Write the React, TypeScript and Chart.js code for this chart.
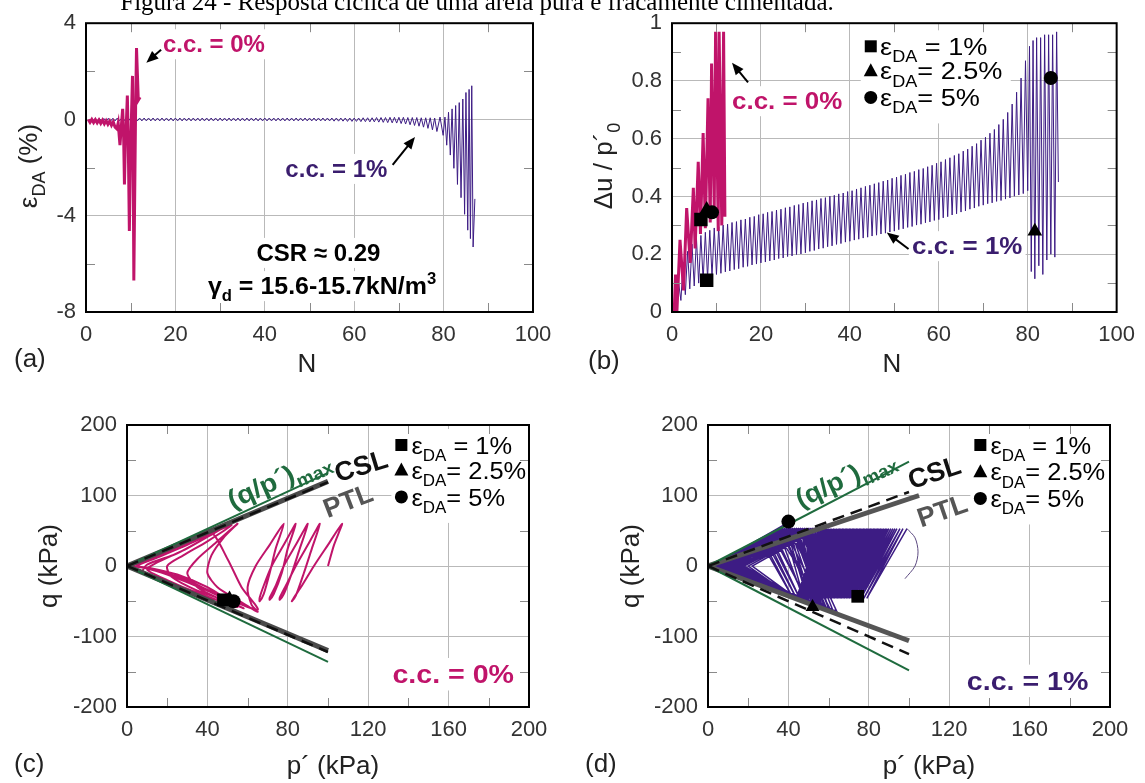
import React, { useEffect, useRef } from "react";
import { Chart, registerables } from "chart.js";

Chart.register(...registerables);

const W = 1145;
const H = 783;
const SANS = '"Liberation Sans", Arial, Helvetica, sans-serif';
const SERIF = '"Liberation Serif", "Times New Roman", Times, serif';
const MAG = "#c0146a";
const PUR = "#3d1c84";
const PUR_TXT = "#3a1d6e";
const GRN = "#1f6b3e";
const PTL_C = "#555555";
const GRID = "#b9b9b9";

// ---------------- (a) strain vs N ----------------
const a_cc0_N = [0.5, 0.9, 1.3, 1.7, 2.1, 2.5, 2.9, 3.3, 3.7, 4.1, 4.5, 4.9, 5.3, 5.7, 6.1, 6.5, 6.9, 7.2, 7.6, 7.9, 8.2, 8.4, 8.6, 8.8, 9.0, 9.25, 9.45, 9.7, 9.9, 10.1, 10.4, 10.55, 10.7, 10.9, 11.1, 11.3, 11.7, 12.1];
const a_cc0_E = [0.0, -0.12, 0.0, -0.13, -0.01, -0.14, -0.02, -0.16, -0.03, -0.18, -0.05, -0.2, -0.07, -0.24, -0.1, -0.32, -0.39, -0.15, -1.07, -0.3, 0.44, -0.5, -2.7, -1.0, -0.3, 0.99, -0.8, -4.63, -2.0, -0.4, 1.81, -1.5, -6.69, -3.0, 0.5, 2.97, 0.8, 0.92];
// c.c. = 1 %: compression peak at N = k, extension trough at N = k + 0.5
const a_cc1_peak = [
  0.02, 0.03, 0.04, 0.04, 0.05, 0.05, 0.06, 0.06, 0.06, 0.06,
  0.06, 0.06, 0.06, 0.06, 0.06, 0.06, 0.06, 0.06, 0.06, 0.06,
  0.06, 0.06, 0.06, 0.06, 0.06, 0.06, 0.06, 0.06, 0.06, 0.06,
  0.06, 0.06, 0.06, 0.06, 0.06, 0.06, 0.06, 0.06, 0.06, 0.06,
  0.06, 0.06, 0.06, 0.06, 0.06, 0.06, 0.06, 0.06, 0.06, 0.06,
  0.06, 0.06, 0.06, 0.06, 0.06, 0.06, 0.06, 0.06, 0.06, 0.06,
  0.06, 0.07, 0.07, 0.07, 0.08, 0.08, 0.08, 0.09, 0.09, 0.09,
  0.09, 0.08, 0.08, 0.08, 0.07, 0.07, 0.07, 0.06,
];
const a_cc1_trough = [
  -0.08, -0.08, -0.07, -0.07, -0.07, -0.06, -0.06, -0.06, -0.06, -0.06,
  -0.06, -0.06, -0.06, -0.06, -0.06, -0.06, -0.06, -0.06, -0.06, -0.06,
  -0.06, -0.06, -0.06, -0.06, -0.06, -0.06, -0.06, -0.06, -0.06, -0.06,
  -0.06, -0.06, -0.06, -0.06, -0.06, -0.06, -0.06, -0.06, -0.06, -0.06,
  -0.06, -0.06, -0.06, -0.06, -0.06, -0.06, -0.06, -0.06, -0.06, -0.06,
  -0.06, -0.06, -0.06, -0.06, -0.07, -0.07, -0.07, -0.08, -0.08, -0.08,
  -0.09, -0.09, -0.1, -0.1, -0.11, -0.12, -0.13, -0.14, -0.15, -0.17,
  -0.19, -0.22, -0.25, -0.28, -0.32, -0.37, -0.43, -0.5,
];
const a_cc1_tailN = [79.2, 79.9, 80.3, 80.7, 81.1, 81.5, 81.9, 82.3, 82.7, 83.1, 83.5, 83.9, 84.3, 84.7, 85.0, 85.4, 85.7, 86.0, 86.3, 86.6, 87.0];
const a_cc1_tailE = [0.1, -0.66, 0.1, -1.07, 0.3, -1.48, 0.44, -2.03, 0.58, -2.7, 0.7, -3.25, 0.85, -3.94, 1.12, -4.6, 1.25, -4.95, 1.4, -5.3, -3.3];

// ---------------- (b) du/p'0 vs N ----------------
const b_cc0_N = [0.5, 0.8, 1.1, 1.8, 2.6, 3.3, 4.1, 4.8, 5.2, 5.9, 6.4, 7.0, 7.5, 8.1, 8.6, 8.9, 9.5, 9.8, 10.4, 10.6, 11.2, 11.6, 11.9];
const b_cc0_U = [0, 0.13, 0.0, 0.25, 0.075, 0.36, 0.17, 0.43, 0.22, 0.52, 0.27, 0.62, 0.29, 0.74, 0.31, 0.86, 0.36, 0.97, 0.28, 0.97, 0.3, 0.97, 0.33];
// c.c. = 1 %: minimum at N = k, maximum at N = k + 0.5
const b_cc1_low = [
  0.0, 0.04, 0.06, 0.08, 0.09, 0.1, 0.11, 0.118, 0.124, 0.13,
  0.134, 0.139, 0.142, 0.147, 0.15, 0.155, 0.158, 0.163, 0.166, 0.17,
  0.173, 0.177, 0.18, 0.185, 0.187, 0.192, 0.194, 0.199, 0.201, 0.205,
  0.21, 0.213, 0.218, 0.221, 0.226, 0.229, 0.234, 0.237, 0.242, 0.245,
  0.249, 0.252, 0.256, 0.259, 0.263, 0.266, 0.27, 0.273, 0.277, 0.28,
  0.285, 0.288, 0.293, 0.296, 0.301, 0.304, 0.309, 0.312, 0.317, 0.32,
  0.326, 0.33, 0.336, 0.34, 0.346, 0.35, 0.356, 0.36, 0.366, 0.37,
  0.375, 0.378, 0.383, 0.386, 0.391, 0.395, 0.401, 0.405, 0.41,
];
const b_cc1_up = [
  0.1, 0.17, 0.21, 0.235, 0.255, 0.265, 0.276, 0.283, 0.291, 0.295,
  0.301, 0.304, 0.31, 0.313, 0.319, 0.322, 0.328, 0.331, 0.337, 0.34,
  0.345, 0.348, 0.353, 0.356, 0.361, 0.364, 0.369, 0.372, 0.377, 0.38,
  0.385, 0.388, 0.393, 0.396, 0.401, 0.404, 0.409, 0.412, 0.417, 0.42,
  0.426, 0.43, 0.435, 0.439, 0.444, 0.448, 0.453, 0.457, 0.463, 0.467,
  0.473, 0.477, 0.483, 0.487, 0.493, 0.497, 0.503, 0.508, 0.515, 0.52,
  0.528, 0.534, 0.542, 0.548, 0.557, 0.564, 0.574, 0.583, 0.595, 0.605,
  0.619, 0.632, 0.649, 0.667, 0.691, 0.72, 0.761, 0.81, 0.87,
];
const b_cc1_tailN = [80.0, 80.4, 80.8, 81.2, 81.6, 82.0, 82.5, 82.9, 83.4, 83.8, 84.3, 84.7, 85.2, 85.6, 86.1, 86.5, 86.9];
const b_cc1_tailU = [0.42, 0.92, 0.14, 0.94, 0.115, 0.95, 0.16, 0.95, 0.13, 0.96, 0.18, 0.96, 0.2, 0.96, 0.19, 0.97, 0.45];
const b_rectN = [6.5, 7.8];
const b_rectU = [0.32, 0.11];
const b_triN = [7.8, 81.6];
const b_triU = [0.355, 0.28];
const b_circN = [9.0, 85.2];
const b_circU = [0.345, 0.81];

// ---------------- (c) stress path, c.c. = 0 % ----------------
const c_path_p = [
  100, 103, 107, 100, 93, 87, 83, 82, 84, 88,
  92, 96, 90, 84, 79, 76, 76, 78, 82, 86,
  90, 84, 78, 74, 71, 71, 73, 77, 80, 84,
  78, 72, 68, 66, 66, 68, 71, 74, 78, 71,
  64, 60, 62, 65, 55, 45, 40, 42, 48, 55,
  45, 35, 30, 35, 45, 52, 40, 25, 12, 5,
  15, 30, 45, 52, 40, 28, 20, 22, 35, 50,
  58, 40, 20, 8, 3, 12, 25, 41, 50, 57,
  65, 45, 25, 10, 3, 10, 22, 35, 48, 30,
  15, 10, 20, 35, 55, 30, 10, 3, 10, 22,
  35, 45, 25, 10, 8, 20, 40, 50,
];
const c_path_q = [
  0, 30, 60, 30, 0, -28, -45, -50, -42, -10,
  25, 60, 30, 0, -28, -45, -48, -40, -10, 25,
  60, 30, 0, -28, -45, -48, -40, -10, 25, 60,
  30, 0, -28, -45, -50, -40, -10, 25, 60, 30,
  0, -30, -55, -65, -48, -30, -10, 15, 40, 60,
  35, 10, -10, -30, -45, -52, -30, -12, -3, 0,
  12, 30, 50, 58, 35, 15, 0, -15, -35, -50,
  -60, -35, -12, -2, 0, 10, 28, 50, 10, -30,
  -62, -40, -15, -3, 0, 8, 22, 38, 55, 25,
  5, -5, -20, -38, -58, -20, -3, 0, 8, 22,
  38, 50, 18, 2, -8, -25, -45, -50,
];
const c_lineP = [0, 100];
const c_greenUp = [0, 132];
const c_greenLo = [0, -136];
const c_cslUp = [0, 119];
const c_cslLo = [0, -122];
const c_ptlUp = [0, 120];
const c_ptlLo = [0, -120];
const c_markP = [48, 51, 53];
const c_markQ = [-48, -46, -50];

// ---------------- (d) stress path, c.c. = 1 % ----------------
const d_startP = [98, 103, 104.5, 103, 99];
const d_startQ = [-18, 0, 20, 40, 53];
const D_QTOP = 53;
const D_QBOT = -46;
const d_top1 = [
  99, 97, 95.5, 94, 93, 92, 91, 90, 89.2, 88.4,
  87.6, 86.8, 86, 85.3, 84.6, 83.9, 83.2, 82.5, 81.8, 81.1,
  80.4, 79.7, 79, 78.3, 77.6, 76.9, 76.2, 75.5, 74.8, 74.1,
  73.4, 72.7, 72, 71.3, 70.6, 69.9, 69.2, 68.5, 67.8, 67.1,
  66.4, 65.7, 65, 64.2, 63.4, 62.6, 61.8, 61, 60.2, 59.4,
  58.6, 57.8, 57, 56.2, 55.4,
];
const d_bot1 = [
  79, 77.5, 76, 75, 74, 73, 72, 71, 70.2, 69.4,
  68.6, 67.8, 67, 66.3, 65.6, 64.9, 64.2, 63.5, 62.8, 62.1,
  61.4, 60.7, 60, 59.3, 58.6, 57.9, 57.2, 56.5, 55.8, 55.1,
  54.4, 53.7, 53, 52.3, 51.6, 50.9, 50.2, 49.5, 48.8, 48.1,
  47.4, 46.7, 46, 46, 46, 45.5, 45.5, 45, 45, 45,
  44.5, 44.5, 44, 44, 44,
];
const d_mid2 = [
  22, 18, 16, 14, 12, 11, 10, 9, 8, 8,
  7, 7, 6, 6, 5, 5, 4, 4, 4, 3,
  3, 3, 2, 2, 2, 20, 17, 15, 13, 11,
  9, 8, 7, 6, 5, 4, 3, 3, 2, 2, 2,
];
const D_QMID = 0;
const d_top2p = [
  55, 54, 53, 52, 51, 50, 49, 48, 47, 46,
  45, 44, 43, 42, 41, 40, 39, 38, 37, 36,
  34, 32, 30, 28, 26, 54, 52, 50, 48, 46,
  44, 42, 40, 38, 36, 33, 31, 29, 27, 35, 40,
];
const d_top2q = [
  53, 53, 53, 53, 53, 53, 53, 53, 53, 53,
  53, 53, 53, 53, 53, 53, 53, 53, 53, 53,
  48, 45, 42, 39, 36, 53, 53, 53, 53, 53,
  53, 53, 53, 53, 53, 47, 44, 41, 38, 50, 62,
];
const d_bot2p = [
  45, 46, 48, 50, 52, 54, 56, 58, 60, 62,
  64, 60, 58, 56, 54, 52, 50, 48, 52, 55,
  58, 50, 46, 44, 42, 47, 49, 51, 53, 55,
  57, 59, 61, 57, 53, 49, 46, 44, 42, 48, 50,
];
const d_bot2q = [
  -46, -47, -49, -51, -53, -55, -57, -58, -60, -62,
  -64, -60, -58, -57, -56, -54, -52, -50, -54, -57,
  -60, -52, -48, -46, -44, -48, -50, -52, -54, -56,
  -58, -60, -62, -58, -55, -51, -48, -46, -44, -50, -52,
];
const d_lineP = [0, 100];
const d_ptlUpP = [0, 105];
const d_greenUp = [0, 148];
const d_greenLo = [0, -148];
const d_cslUp = [0, 105];
const d_cslLo = [0, -125];
const d_ptlUp = [0, 100];
const d_ptlLo = [0, -106];
const d_rectP = [74.5];
const d_rectQ = [-43];
const d_triP = [52];
const d_triQ = [-58];
const d_circP = [40];
const d_circQ = [63];

// ---------------- helpers ----------------
type Pt = { x: number; y: number };
const zip = (xs: number[], ys: number[]): Pt[] =>
  xs.slice(0, Math.min(xs.length, ys.length)).map((x, i) => ({ x, y: ys[i] }));

function sawtooth(first: number[], second: number[], n0: number): Pt[] {
  const out: Pt[] = [];
  for (let i = 0; i < first.length; i++) {
    out.push({ x: n0 + i, y: first[i] });
    if (i < second.length) out.push({ x: n0 + i + 0.5, y: second[i] });
  }
  return out;
}

function dPath(): Pt[] {
  const pts: Pt[] = [{ x: d_startP[d_startP.length - 1], y: d_startQ[d_startQ.length - 1] }];
  for (let i = 0; i < d_bot1.length; i++) {
    pts.push({ x: d_bot1[i], y: D_QBOT });
    if (i + 1 < d_top1.length) pts.push({ x: d_top1[i + 1], y: D_QTOP });
  }
  const n = Math.min(d_mid2.length, d_top2p.length, d_top2q.length, d_bot2p.length, d_bot2q.length);
  for (let i = 0; i < n; i++) {
    pts.push({ x: d_mid2[i], y: D_QMID });
    pts.push({ x: d_top2p[i], y: d_top2q[i] });
    pts.push({ x: d_bot2p[i], y: d_bot2q[i] });
  }
  return pts;
}

const lineDs = (data: Pt[], color: string, width: number, order: number, extra: any = {}) => ({
  data,
  borderColor: color,
  borderWidth: width,
  pointRadius: 0,
  fill: false,
  tension: 0,
  order,
  ...extra,
});
const markDs = (data: Pt[], style: string, r: number) => ({
  data,
  showLine: false,
  pointStyle: style,
  pointRadius: r,
  pointBackgroundColor: "#000",
  pointBorderColor: "#000",
  pointBorderWidth: 0,
  order: 0,
});

type Part = { t: string; sub?: boolean; sup?: boolean };
interface TOpt {
  size: number;
  bold?: boolean;
  color?: string;
  align?: "left" | "center" | "right";
  angle?: number;
  family?: string;
  bg?: boolean;
  sx?: number;
}
function fontOf(o: TOpt, p: Part) {
  const s = p.sub || p.sup ? Math.round(o.size * 0.68) : o.size;
  return `${o.bold ? "bold " : ""}${s}px ${o.family || SANS}`;
}
function measureRich(ctx: CanvasRenderingContext2D, parts: Part[], o: TOpt) {
  let w = 0;
  for (const p of parts) {
    ctx.font = fontOf(o, p);
    w += ctx.measureText(p.t).width;
  }
  return w;
}
// (x, y): anchor at the vertical middle of the main text
function drawRich(ctx: CanvasRenderingContext2D, parts: Part[], x: number, y: number, o: TOpt) {
  ctx.save();
  const w = measureRich(ctx, parts, o);
  ctx.translate(x, y);
  if (o.angle) ctx.rotate((o.angle * Math.PI) / 180);
  if (o.sx) ctx.scale(o.sx, 1);
  let cx = o.align === "center" ? -w / 2 : o.align === "right" ? -w : 0;
  const base = o.size * 0.36;
  if (o.bg) {
    ctx.fillStyle = "#fff";
    ctx.fillRect(cx - 3, -o.size * 0.6, w + 6, o.size * 1.25);
  }
  ctx.fillStyle = o.color || "#000";
  ctx.textBaseline = "alphabetic";
  ctx.textAlign = "left";
  for (const p of parts) {
    ctx.font = fontOf(o, p);
    const dy = p.sub ? o.size * 0.3 : p.sup ? -o.size * 0.42 : 0;
    ctx.fillText(p.t, cx, base + dy);
    cx += ctx.measureText(p.t).width;
  }
  ctx.restore();
}

function arrow(ctx: CanvasRenderingContext2D, x1: number, y1: number, x2: number, y2: number) {
  const a = Math.atan2(y2 - y1, x2 - x1);
  const L = 12;
  const hw = 5;
  ctx.save();
  ctx.strokeStyle = "#000";
  ctx.fillStyle = "#000";
  ctx.lineWidth = 2;
  ctx.beginPath();
  ctx.moveTo(x1, y1);
  ctx.lineTo(x2 - Math.cos(a) * L * 0.7, y2 - Math.sin(a) * L * 0.7);
  ctx.stroke();
  ctx.beginPath();
  ctx.moveTo(x2, y2);
  ctx.lineTo(x2 - L * Math.cos(a) + hw * Math.sin(a), y2 - L * Math.sin(a) - hw * Math.cos(a));
  ctx.lineTo(x2 - L * Math.cos(a) - hw * Math.sin(a), y2 - L * Math.sin(a) + hw * Math.cos(a));
  ctx.closePath();
  ctx.fill();
  ctx.restore();
}

function symbol(ctx: CanvasRenderingContext2D, kind: string, x: number, y: number) {
  ctx.save();
  ctx.fillStyle = "#000";
  ctx.beginPath();
  if (kind === "rect") ctx.rect(x - 6, y - 6, 12, 12);
  else if (kind === "tri") {
    ctx.moveTo(x, y - 7.5);
    ctx.lineTo(x + 7, y + 5.5);
    ctx.lineTo(x - 7, y + 5.5);
    ctx.closePath();
  } else ctx.arc(x, y, 6.5, 0, Math.PI * 2);
  ctx.fill();
  ctx.restore();
}

const LEG_KINDS = ["rect", "tri", "circ"];
const LEG_TEXT: Part[][] = [
  [{ t: "ε" }, { t: "DA", sub: true }, { t: " = 1%" }],
  [{ t: "ε" }, { t: "DA", sub: true }, { t: "= 2.5%" }],
  [{ t: "ε" }, { t: "DA", sub: true }, { t: "= 5%" }],
];
function legendBg(ctx: CanvasRenderingContext2D, xs: number, ys: number[]) {
  ctx.save();
  ctx.fillStyle = "#fff";
  ctx.fillRect(xs - 10, ys[0] - 16, 150, ys[2] - ys[0] + 42);
  ctx.restore();
}
function legend(ctx: CanvasRenderingContext2D, xs: number, xt: number, ys: number[], sx: number) {
  for (let i = 0; i < 3; i++) {
    symbol(ctx, LEG_KINDS[i], xs, ys[i]);
    drawRich(ctx, LEG_TEXT[i], xt, ys[i], { size: 24, sx });
  }
}

const isMul = (v: number, m: number) => Math.abs(v / m - Math.round(v / m)) < 1e-6;

interface AxisSpec {
  min: number;
  max: number;
  step: number;
  major: number;
}
interface PanelSpec {
  area: { l: number; r: number; t: number; b: number };
  x: AxisSpec;
  y: AxisSpec;
  datasets: any[];
  bg?: (ctx: CanvasRenderingContext2D, X: (v: number) => number, Y: (v: number) => number) => void;
  fg: (ctx: CanvasRenderingContext2D, X: (v: number) => number, Y: (v: number) => number) => void;
}

function axis(a: AxisSpec) {
  return {
    type: "linear",
    min: a.min,
    max: a.max,
    border: { display: false },
    grid: {
      drawTicks: false,
      lineWidth: 1,
      color: (c: any) => (c.tick && isMul(c.tick.value, a.major) ? GRID : "rgba(0,0,0,0)"),
    },
    ticks: {
      stepSize: a.step,
      autoSkip: false,
      maxRotation: 0,
      padding: 10,
      color: "#333",
      font: { family: SANS, size: 22 },
      callback: (v: number) => (isMul(v, a.major) ? String(Math.round(v * 1000) / 1000) : ""),
    },
  };
}

function minorVals(a: AxisSpec) {
  const out: number[] = [];
  const n = Math.round((a.max - a.min) / a.step);
  for (let i = 1; i < n; i++) {
    const v = a.min + i * a.step;
    if (!isMul(v, a.major)) out.push(v);
  }
  return out;
}

function decoPlugin(spec: PanelSpec) {
  const helpers = (chart: any) => {
    const X = (v: number) => chart.scales.x.getPixelForValue(v);
    const Y = (v: number) => chart.scales.y.getPixelForValue(v);
    return { X, Y };
  };
  return {
    id: "deco",
    beforeDatasetsDraw(chart: any) {
      if (!spec.bg) return;
      const { X, Y } = helpers(chart);
      spec.bg(chart.ctx, X, Y);
    },
    afterDatasetsDraw(chart: any) {
      const ctx: CanvasRenderingContext2D = chart.ctx;
      const { left, right, top, bottom } = chart.chartArea;
      const { X, Y } = helpers(chart);
      ctx.save();
      ctx.strokeStyle = "#8a8a8a";
      ctx.lineWidth = 1;
      ctx.beginPath();
      for (const v of minorVals(spec.x)) {
        const px = Math.round(X(v)) + 0.5;
        ctx.moveTo(px, bottom);
        ctx.lineTo(px, bottom - 9);
        ctx.moveTo(px, top);
        ctx.lineTo(px, top + 9);
      }
      for (const v of minorVals(spec.y)) {
        const py = Math.round(Y(v)) + 0.5;
        ctx.moveTo(left, py);
        ctx.lineTo(left + 9, py);
        ctx.moveTo(right, py);
        ctx.lineTo(right - 9, py);
      }
      ctx.stroke();
      ctx.strokeStyle = "#000";
      ctx.lineWidth = 2;
      ctx.strokeRect(left, top, right - left, bottom - top);
      ctx.restore();
      spec.fg(ctx, X, Y);
    },
  };
}

function makeConfig(spec: PanelSpec): any {
  return {
    type: "line",
    data: { datasets: spec.datasets },
    options: {
      responsive: false,
      maintainAspectRatio: false,
      animation: false,
      devicePixelRatio: 1,
      events: [],
      layout: { padding: { left: 0, top: spec.area.t, right: W - spec.area.r, bottom: 0 } },
      plugins: { legend: { display: false }, tooltip: { enabled: false }, title: { display: false } },
      scales: {
        x: {
          ...axis(spec.x),
          position: "bottom",
          afterFit: (s: any) => {
            s.height = H - spec.area.b;
          },
        },
        y: {
          ...axis(spec.y),
          position: "left",
          afterFit: (s: any) => {
            s.width = spec.area.l;
          },
        },
      },
    },
    plugins: [decoPlugin(spec)],
  };
}

const TITLE_SIZE = 26;
function pageText(ctx: CanvasRenderingContext2D, parts: Part[], x: number, y: number, o: Partial<TOpt> = {}) {
  drawRich(ctx, parts, x, y, { size: TITLE_SIZE, color: "#222", ...o } as TOpt);
}

// ---------------- panels ----------------
const panelA: PanelSpec = {
  area: { l: 86, r: 533, t: 20, b: 312 },
  x: { min: 0, max: 100, step: 10, major: 20 },
  y: { min: -8, max: 4, step: 2, major: 4 },
  datasets: [
    lineDs(zip(a_cc0_N, a_cc0_E), MAG, 3, 1),
    lineDs([...sawtooth(a_cc1_peak, a_cc1_trough, 1), ...zip(a_cc1_tailN, a_cc1_tailE)], PUR, 1, 2),
  ],
  fg: (ctx, X, Y) => {
    drawRich(ctx, [{ t: "c.c. = 0%" }], X(17.2), Y(3.15), { size: 24, bold: true, color: MAG, bg: true });
    arrow(ctx, X(16.8), Y(2.9), X(13.5), Y(2.36));
    drawRich(ctx, [{ t: "c.c. = 1%" }], X(44.6), Y(-2.03), { size: 24, bold: true, color: PUR_TXT, bg: true });
    arrow(ctx, X(68.6), Y(-1.89), X(73.6), Y(-0.73));
    drawRich(ctx, [{ t: "CSR ≈ 0.29" }], X(52), Y(-5.52), { size: 24, bold: true, align: "center", bg: true });
    drawRich(
      ctx,
      [{ t: "γ" }, { t: "d", sub: true }, { t: " = 15.6-15.7kN/m" }, { t: "3", sup: true }],
      X(52.8),
      Y(-6.9),
      { size: 24, bold: true, align: "center", bg: true, sx: 1.04 }
    );
    pageText(ctx, [{ t: "ε" }, { t: "DA", sub: true }, { t: " (%)" }], 28, 166, { align: "center", angle: -90 });
    pageText(ctx, [{ t: "N" }], 307, 363, { align: "center" });
    pageText(ctx, [{ t: "(a)" }], 14, 358);
    ctx.save();
    ctx.font = `25px ${SERIF}`;
    ctx.fillStyle = "#000";
    ctx.textAlign = "center";
    ctx.textBaseline = "alphabetic";
    ctx.fillText("Figura 24 - Resposta cíclica de uma areia pura e fracamente cimentada.", 477, 10);
    ctx.restore();
  },
};

const panelB: PanelSpec = {
  area: { l: 672, r: 1124, t: 20, b: 312 },
  x: { min: 0, max: 100, step: 10, major: 20 },
  y: { min: 0, max: 1, step: 0.1, major: 0.2 },
  datasets: [
    markDs(zip(b_rectN, b_rectU), "rect", 9.5),
    markDs(zip(b_triN, b_triU), "triangle", 8.5),
    markDs(zip(b_circN, b_circU), "circle", 7),
    lineDs(zip(b_cc0_N, b_cc0_U), MAG, 3, 1),
    lineDs([...sawtooth(b_cc1_low, b_cc1_up, 1), ...zip(b_cc1_tailN, b_cc1_tailU)], PUR, 1, 2),
  ],
  bg: (ctx, X, Y) => legendBg(ctx, X(44.7), [Y(0.92), Y(0.835), Y(0.743)]),
  fg: (ctx, X, Y) => {
    legend(ctx, X(44.7), X(46.8), [Y(0.92), Y(0.835), Y(0.743)], 1.13);
    drawRich(ctx, [{ t: "c.c. = 0%" }], X(13.5), Y(0.732), { size: 24, bold: true, color: MAG, bg: true, sx: 1.08 });
    arrow(ctx, X(17.1), Y(0.795), X(13.5), Y(0.863));
    drawRich(ctx, [{ t: "c.c. = 1%" }], X(54), Y(0.23), { size: 24, bold: true, color: PUR_TXT, bg: true, sx: 1.08 });
    arrow(ctx, X(53.2), Y(0.218), X(48.3), Y(0.275));
    pageText(ctx, [{ t: "Δu / p´" }, { t: "0", sub: true }], 603, 166, { align: "center", angle: -90 });
    pageText(ctx, [{ t: "N" }], 892, 363, { align: "center" });
    pageText(ctx, [{ t: "(b)" }], 588, 360);
  },
};

const panelC: PanelSpec = {
  area: { l: 127, r: 529, t: 425, b: 707 },
  x: { min: 0, max: 200, step: 20, major: 40 },
  y: { min: -200, max: 200, step: 50, major: 100 },
  datasets: [
    markDs(zip(c_markP.slice(0, 1), c_markQ.slice(0, 1)), "rect", 9),
    markDs(zip(c_markP.slice(1, 2), c_markQ.slice(1, 2)), "triangle", 8),
    markDs(zip(c_markP.slice(2, 3), c_markQ.slice(2, 3)), "circle", 7),
    lineDs(zip(c_lineP, c_cslUp), "#111", 2.5, 1, { borderDash: [12, 7] }),
    lineDs(zip(c_lineP, c_cslLo), "#111", 2.5, 1, { borderDash: [12, 7] }),
    lineDs(zip(c_lineP, c_greenUp), GRN, 2, 1),
    lineDs(zip(c_lineP, c_greenLo), GRN, 2, 1),
    lineDs(zip(c_lineP, c_ptlUp), "#4a4a4a", 5, 2),
    lineDs(zip(c_lineP, c_ptlLo), "#4a4a4a", 5, 2),
    lineDs(zip(c_path_p, c_path_q), MAG, 2, 3, { tension: 0.25 }),
  ],
  bg: (ctx, X, Y) => legendBg(ctx, X(136.5), [Y(171.6), Y(136), Y(98)]),
  fg: (ctx, X, Y) => {
    legend(ctx, X(136.5), X(141.5), [Y(171.6), Y(136), Y(98)], 1.06);
    drawRich(ctx, [{ t: "(q/p´)" }, { t: "max", sub: true }], X(75.3), Y(124.3), { size: 26, bold: true, color: GRN, align: "center", angle: -24, sx: 1.08 });
    drawRich(ctx, [{ t: "CSL" }], X(116.3), Y(143), { size: 27, bold: true, color: "#111", align: "center", angle: -17 });
    drawRich(ctx, [{ t: "PTL" }], X(109.8), Y(93.5), { size: 27, bold: true, color: PTL_C, align: "center", angle: -21 });
    drawRich(ctx, [{ t: "c.c. = 0%" }], X(162.3), Y(-152.6), { size: 26, bold: true, color: MAG, align: "center", bg: true, sx: 1.1 });
    pageText(ctx, [{ t: "q (kPa)" }], 48, 566, { align: "center", angle: -90 });
    pageText(ctx, [{ t: "p´ (kPa)" }], 333, 765, { align: "center" });
    pageText(ctx, [{ t: "(c)" }], 14, 763);
  },
};

const panelD: PanelSpec = {
  area: { l: 708, r: 1110, t: 425, b: 707 },
  x: { min: 0, max: 200, step: 20, major: 40 },
  y: { min: -200, max: 200, step: 50, major: 100 },
  datasets: [
    markDs(zip(d_rectP, d_rectQ), "rect", 9),
    markDs(zip(d_triP, d_triQ), "triangle", 8),
    markDs(zip(d_circP, d_circQ), "circle", 7),
    lineDs(zip(d_lineP, d_cslUp), "#111", 2.5, 1, { borderDash: [12, 7] }),
    lineDs(zip(d_lineP, d_cslLo), "#111", 2.5, 1, { borderDash: [12, 7] }),
    lineDs(zip(d_lineP, d_greenUp), GRN, 2, 1),
    lineDs(zip(d_lineP, d_greenLo), GRN, 2, 1),
    lineDs(zip(d_ptlUpP, d_ptlUp), "#555", 5, 2),
    lineDs(zip(d_lineP, d_ptlLo), "#555", 5, 2),
    lineDs(zip(d_startP, d_startQ), "#5c4a80", 1, 3, { tension: 0.3 }),
    lineDs(dPath(), PUR, 1.5, 3),
  ],
  bg: (ctx, X, Y) => legendBg(ctx, X(135.5), [Y(171.6), Y(133.7), Y(95.8)]),
  fg: (ctx, X, Y) => {
    legend(ctx, X(135.5), X(140.5), [Y(171.6), Y(133.7), Y(95.8)], 1.06);
    drawRich(ctx, [{ t: "(q/p´)" }, { t: "max", sub: true }], X(68), Y(126), { size: 26, bold: true, color: GRN, align: "center", angle: -25, sx: 1.05 });
    drawRich(ctx, [{ t: "CSL" }], X(112.5), Y(133.7), { size: 27, bold: true, color: "#111", align: "center", angle: -18 });
    drawRich(ctx, [{ t: "PTL" }], X(116.4), Y(79.3), { size: 27, bold: true, color: PTL_C, align: "center", angle: -19 });
    drawRich(ctx, [{ t: "c.c. = 1%" }], X(159), Y(-162), { size: 26, bold: true, color: PUR_TXT, align: "center", bg: true, sx: 1.1 });
    pageText(ctx, [{ t: "q (kPa)" }], 630, 566, { align: "center", angle: -90 });
    pageText(ctx, [{ t: "p´ (kPa)" }], 929, 765, { align: "center" });
    pageText(ctx, [{ t: "(d)" }], 585, 763);
  },
};

const PANELS = [panelA, panelB, panelC, panelD];

export default function App() {
  const refs = [useRef<HTMLCanvasElement>(null), useRef<HTMLCanvasElement>(null), useRef<HTMLCanvasElement>(null), useRef<HTMLCanvasElement>(null)];
  useEffect(() => {
    const charts: Chart[] = [];
    PANELS.forEach((spec, i) => {
      const c = refs[i].current;
      if (c) charts.push(new Chart(c, makeConfig(spec)));
    });
    return () => charts.forEach((ch) => ch.destroy());
  }, []);
  return (
    <div style={{ position: "fixed", left: 0, top: 0, width: W, height: H, background: "#fff", overflow: "hidden" }}>
      {refs.map((r, i) => (
        <canvas key={i} ref={r} width={W} height={H} style={{ position: "absolute", left: 0, top: 0, width: W, height: H }} />
      ))}
    </div>
  );
}
